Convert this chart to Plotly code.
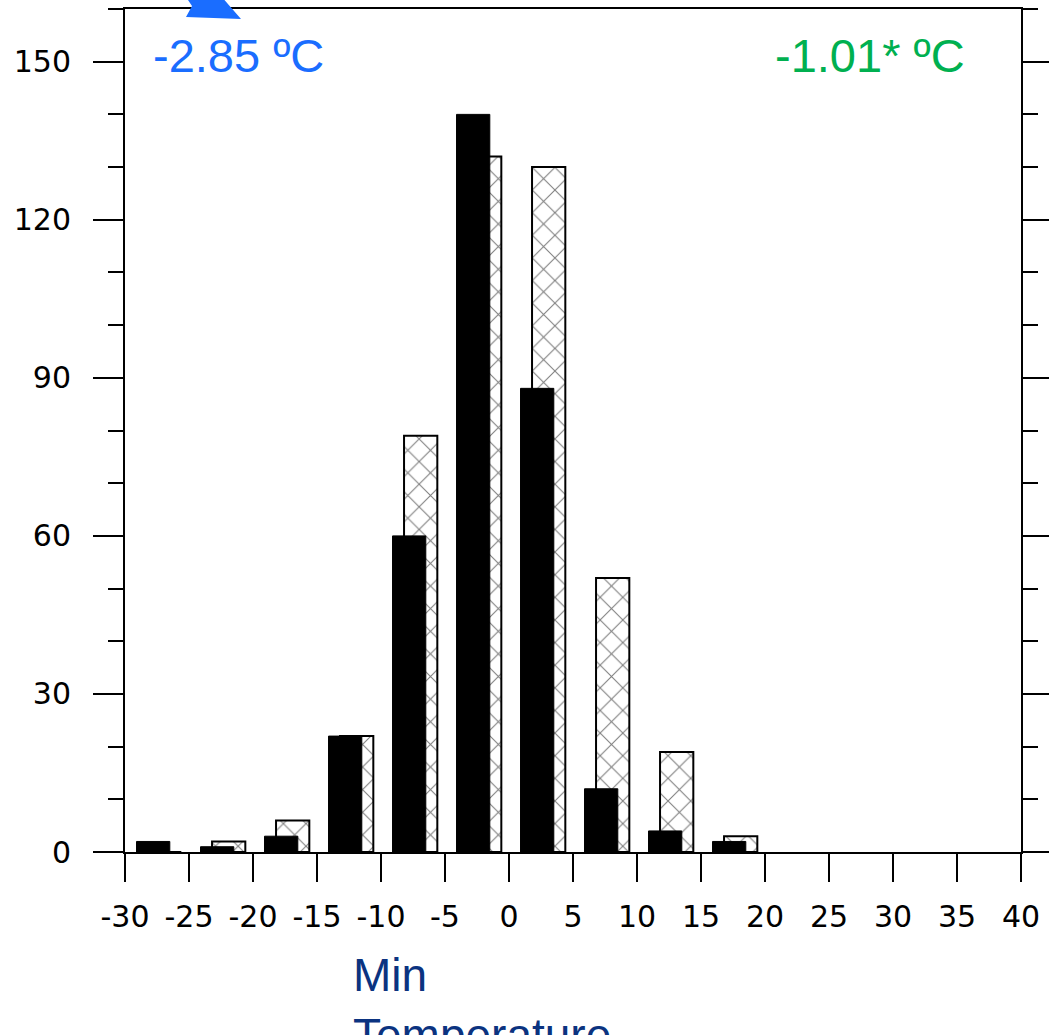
import plotly.graph_objects as go

# ---- data ----
bin_centers = [-27.5, -22.5, -17.5, -12.5, -7.5, -2.5, 2.5, 7.5, 12.5, 17.5]
black_counts = [2, 1, 3, 22, 60, 140, 88, 12, 4, 2]
hatched_counts = [0, 2, 6, 22, 79, 132, 130, 52, 19, 3]
x_tick_vals = [-30, -25, -20, -15, -10, -5, 0, 5, 10, 15, 20, 25, 30, 35, 40]
x_tick_text = ["-30", "-25", "-20", "-15", "-10", "-5", "0", "5", "10", "15",
               "20", "25", "30", "35", "40"]
y_tick_vals = [0, 30, 60, 90, 120, 150]
label_left = "-2.85 ºC"
label_right = "-1.01* ºC"
axis_title = "Min<br>Temperature"

W, H = 1049, 1035
L, R, T, B = 125, 28, 9, 183
PW, PH = W - L - R, H - T - B


def px(xp):
    return (xp - L) / PW


def py(yp):
    return (H - B - yp) / PH


fig = go.Figure()
fig.add_trace(go.Bar(
    x=bin_centers, y=hatched_counts, width=2.6, offset=-0.7,
    marker=dict(color="white", line=dict(color="black", width=2),
                pattern=dict(shape="x", fgcolor="black", bgcolor="white",
                             size=16, solidity=0.13)),
    showlegend=False,
))
fig.add_trace(go.Bar(
    x=bin_centers, y=black_counts, width=2.6, offset=-1.6,
    marker=dict(color="black", line=dict(color="black", width=1)),
    showlegend=False,
))

tickfont = dict(family="DejaVu Sans", size=30, color="black")
fig.update_layout(
    width=W, height=H, barmode="overlay",
    margin=dict(l=L, r=R, t=T, b=B, pad=0, autoexpand=False),
    paper_bgcolor="white", plot_bgcolor="white",
    xaxis=dict(range=[-30, 40], tickvals=x_tick_vals, ticktext=x_tick_text,
               tickangle=0, ticks="outside", ticklen=28, automargin=False,
               tickwidth=2, tickcolor="black", showline=True, linecolor="black",
               linewidth=2, mirror=True, showgrid=False, zeroline=False,
               tickfont=tickfont, ticklabelstandoff=9),
    yaxis=dict(range=[0, 160], tickvals=y_tick_vals, ticks="outside", ticklen=30,
               automargin=False,
               tickwidth=2, tickcolor="black", showline=True, linecolor="black",
               linewidth=2, mirror="ticks", showgrid=False, zeroline=False,
               tickfont=tickfont, ticklabelstandoff=16,
               minor=dict(dtick=10, ticks="outside", ticklen=15, tickwidth=2,
                          tickcolor="black", showgrid=False)),
)

afont = "Liberation Sans"
fig.add_annotation(xref="paper", yref="paper", x=px(151), y=py(55), xanchor="left",
                   yanchor="middle", text=label_left, showarrow=False,
                   font=dict(family=afont, size=47, color="#1a6dff"))
fig.add_annotation(xref="paper", yref="paper", x=px(870), y=py(55), xanchor="center",
                   yanchor="middle", text=label_right, showarrow=False,
                   font=dict(family=afont, size=47, color="#00b050"))
fig.add_annotation(xref="paper", yref="paper", x=px(351), y=py(947), xanchor="left",
                   yanchor="top", align="left", text=axis_title, showarrow=False,
                   font=dict(family=afont, size=46, color="#0b3380"))

# partial blue arrow head at the top edge
pts = [(180, -12), (214, -12), (241, 19), (186, 17), (192, 6)]
path = "M " + " L ".join(f"{px(a):.5f},{py(b):.5f}" for a, b in pts) + " Z"
fig.add_shape(type="path", xref="paper", yref="paper", path=path,
              fillcolor="#1a6dff", line=dict(width=0), layer="above")

fig.write_html("out.html", config={"displayModeBar": False},
               post_script="document.body.style.margin='0';document.body.style.padding='0';")
